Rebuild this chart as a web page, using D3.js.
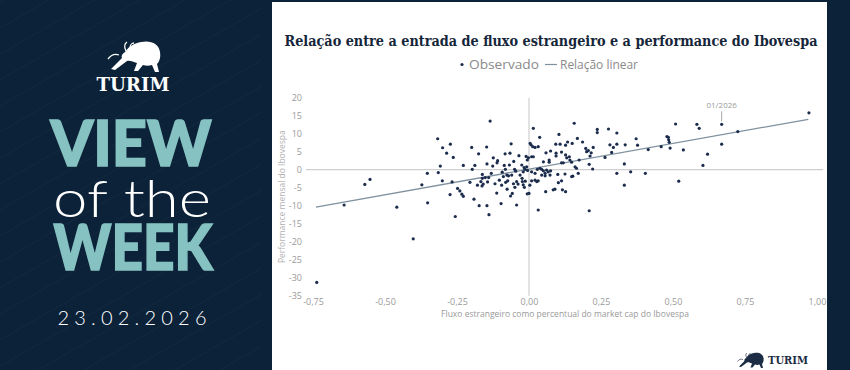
<!DOCTYPE html>
<html>
<head>
<meta charset="utf-8">
<script src="https://cdn.jsdelivr.net/npm/d3@7"></script>
<style>
html, body { margin: 0; padding: 0; background: #0b2238; }
svg { display: block; }
</style>
</head>
<body>
<svg id="chart" width="850" height="370"></svg>
<script>
// data: foreign flow (% of market cap) vs monthly Ibovespa return (%)
var fluxo = [
  -0.737, -0.642, -0.570, -0.552, -0.459, -0.402, -0.372, -0.353, -0.352, -0.317,
  -0.315, -0.308, -0.300, -0.301, -0.286, -0.273, -0.274, -0.267, -0.263, -0.256,
  -0.248, -0.240, -0.233, -0.228, -0.228, -0.205, -0.199, -0.197, -0.191, -0.188,
  -0.179, -0.175, -0.173, -0.167, -0.163, -0.162, -0.162, -0.159, -0.152, -0.147,
  -0.146, -0.146, -0.144, -0.140, -0.139, -0.135, -0.131, -0.126, -0.124, -0.118,
  -0.112, -0.111, -0.109, -0.103, -0.097, -0.095, -0.093, -0.089, -0.086, -0.083,
  -0.082, -0.081, -0.077, -0.076, -0.074, -0.071, -0.068, -0.066, -0.064, -0.062,
  -0.060, -0.058, -0.054, -0.053, -0.050, -0.049, -0.046, -0.043, -0.043, -0.038,
  -0.035, -0.031, -0.025, -0.024, -0.023, -0.020, -0.020, -0.017, -0.016, -0.014,
  -0.013, -0.010, -0.008, -0.006, -0.006, -0.005, -0.002,
  0.000, 0.003, 0.004, 0.007, 0.009, 0.009, 0.009, 0.013, 0.015, 0.015,
  0.021, 0.021, 0.021, 0.027, 0.029, 0.032, 0.032, 0.032, 0.037, 0.038,
  0.044, 0.044, 0.050, 0.050, 0.056, 0.056, 0.058, 0.059, 0.061, 0.067,
  0.070, 0.070, 0.073, 0.075, 0.075, 0.084, 0.090, 0.093, 0.094, 0.094,
  0.100, 0.102, 0.104, 0.108, 0.113, 0.113, 0.113, 0.116, 0.119, 0.125,
  0.127, 0.127, 0.127, 0.131, 0.134, 0.140, 0.142, 0.148, 0.148, 0.150,
  0.152, 0.157, 0.160, 0.165, 0.168, 0.171, 0.174, 0.186, 0.197, 0.200,
  0.206, 0.209, 0.209, 0.212, 0.216, 0.221, 0.223, 0.237, 0.237, 0.264,
  0.276, 0.281, 0.287, 0.293, 0.305, 0.305, 0.305, 0.331, 0.331, 0.334,
  0.353, 0.372, 0.377, 0.404, 0.414, 0.459, 0.479, 0.484, 0.485, 0.487,
  0.490, 0.509, 0.520, 0.536, 0.583, 0.591, 0.604, 0.620, 0.669, 0.669,
  0.725, 0.972
];
var performance = [
  -31.3, -9.8, -4.1, -2.7, -10.4, -19.2, -4.2, -1.0, -9.2, 8.6,
  -0.8, 1.0, 6.1, -3.1, 4.6, 7.1, -6.9, -3.4, 3.4, -13.0,
  -5.2, -5.9, -6.8, -7.4, 1.2, -3.5, 6.2, 0.1, -8.2, 1.2,
  -4.3, 4.4, -10.0, -3.3, -4.5, -2.4, -1.3, -4.0, -2.2, 6.3,
  1.6, -10.0, -3.4, -2.2, -12.5, 13.5, -1.0, 1.0, 3.3, -3.9,
  -6.5, 1.9, 2.5, -2.9, -9.4, -4.3, -0.7, -1.9, 1.2, 4.4,
  0.1, -3.5, -1.5, -5.4, -3.1, -1.7, 1.3, 4.6, -7.3, 7.2,
  -1.5, -6.6, -3.9, 2.3, 0.1, -4.9, -0.4, -9.8, -3.3, -4.0,
  3.9, -1.5, 1.3, -2.4, -3.3, -4.2, -0.6, 0.6, -4.9, 0.1,
  -3.2, 3.7, 0.8, -6.7, 2.7, -0.2, 3.3,
  -6.6, -4.3, 7.3, 6.9, 3.6, -0.6, -3.1, 6.4, 11.5, 3.6,
  6.2, -1.0, -2.9, -3.3, 0.1, 6.4, -3.1, -11.2, 9.0, 0.4,
  0.1, -1.5, 2.2, -0.3, -1.0, -1.7, -6.1, 4.7, -0.1, -0.6,
  2.7, 2.1, -1.5, 5.2, -0.3, -5.6, -5.4, 7.1, 4.6, 3.8,
  -1.3, -3.6, 9.8, 7.1, 4.9, 1.9, -3.1, -5.6, 1.9, -1.2,
  6.8, 4.1, -6.1, 3.3, 7.7, 3.6, 2.7, 2.1, -1.9, 7.3,
  -1.8, 12.9, 0.8, 0.4, 8.7, -1.0, 2.7, 7.7, 5.9, 5.0,
  5.3, 1.5, -11.4, 3.8, 4.7, 0.2, 6.2, 11.2, 10.3, 3.4,
  11.3, 6.9, 4.8, 6.2, 10.2, 7.1, -1.0, 1.6, -4.3, 6.9,
  -0.6, 8.6, 6.8, -1.0, 5.6, 6.4, 9.2, 9.0, 8.3, 7.6,
  6.0, 12.7, -3.2, 5.5, 12.6, 11.5, 1.2, 4.3, 12.6, 7.1,
  10.6, 15.8
];
// fitted line, two ends
var fitX = [-0.74, 0.97];
var fitY = [-10.4, 14.0];
// highlighted month
var destaque = { label: '01/2026', x: 0.669, y: 12.6 };

var xTicks = [-0.75, -0.50, -0.25, 0, 0.25, 0.50, 0.75, 1.00];
var yTicks = [-35, -30, -25, -20, -15, -10, -5, 0, 5, 10, 15, 20];

var NAVY = '#0b2238';
var TEAL = '#86c2c2';
var DOT = '#1c2c4c';
var FIT = '#7f919f';
var GREY = '#9a9a9a';

var svg = d3.select('#chart');

// ---------- left banner ----------
svg.append('rect').attr('width', 850).attr('height', 370).attr('fill', NAVY);

// faint diagonal stripes
var stripes = svg.append('g').attr('stroke', '#ffffff').attr('stroke-opacity', 0.035).attr('stroke-width', 1);
for (var s = -200; s < 470; s += 26) {
  stripes.append('line').attr('x1', 0).attr('y1', s + 150).attr('x2', 262).attr('y2', s);
}

function drawBull(parent, tx, ty, k, fill) {
  var b = parent.append('g').attr('transform', 'translate(' + tx + ',' + ty + ') scale(' + k + ')');
  b.append('path')
    .attr('d', 'M20,12 C24,6 30,3 36,2 C46,0 54,4 55,12 C56,18 54,22 52,24 L54,32 L50,32 L47,25 ' +
      'C44,26 41,26 38,25 L33,31 L29,31 L32,23 C28,22 25,20 22,21 L10,30 L6,29 L17,18 C16,16 17,14 20,12 Z')
    .attr('fill', fill);
  b.append('path')
    .attr('d', 'M21,11 C19,7 19,4 22,2 M25,8 C25,5 27,3 29,3 M14,15 C9,13 6,15 3,19')
    .attr('fill', 'none').attr('stroke', fill).attr('stroke-width', 1.3);
  return b;
}

drawBull(svg, 105, 40, 1, '#ffffff');

svg.append('text').attr('x', 133).attr('y', 91)
  .attr('text-anchor', 'middle')
  .style('font-family', '"DejaVu Serif", serif').style('font-weight', 700)
  .style('font-size', '18px').attr('fill', '#ffffff')
  .attr('textLength', 73).attr('lengthAdjust', 'spacingAndGlyphs')
  .text('TURIM');

var bigFont = 'Lato, "Open Sans", sans-serif';
svg.append('text').attr('x', 131).attr('y', 165.5).attr('text-anchor', 'middle')
  .style('font-family', bigFont).style('font-weight', 900).style('font-size', '62px')
  .attr('fill', TEAL).attr('stroke', TEAL).attr('stroke-width', 1.6)
  .attr('textLength', 161).attr('lengthAdjust', 'spacingAndGlyphs')
  .text('VIEW');
svg.append('text').attr('x', 132).attr('y', 216.5).attr('text-anchor', 'middle')
  .style('font-family', bigFont).style('font-weight', 300).style('font-size', '52px')
  .attr('fill', '#ffffff').attr('textLength', 158).attr('lengthAdjust', 'spacingAndGlyphs')
  .text('of the');
svg.append('text').attr('x', 133).attr('y', 270).attr('text-anchor', 'middle')
  .style('font-family', bigFont).style('font-weight', 900).style('font-size', '62px')
  .attr('fill', TEAL).attr('stroke', TEAL).attr('stroke-width', 1.6)
  .attr('textLength', 159).attr('lengthAdjust', 'spacingAndGlyphs')
  .text('WEEK');
svg.append('text').attr('x', 132).attr('y', 325).attr('text-anchor', 'middle')
  .style('font-family', bigFont).style('font-weight', 300).style('font-size', '20px')
  .attr('fill', '#ffffff').attr('textLength', 149).attr('lengthAdjust', 'spacing')
  .text('23.02.2026');

// ---------- chart panel ----------
svg.append('rect').attr('x', 272).attr('y', 2).attr('width', 555).attr('height', 368).attr('fill', '#ffffff');

svg.append('text').attr('x', 551).attr('y', 45.5).attr('text-anchor', 'middle')
  .style('font-family', '"DejaVu Serif Condensed", "DejaVu Serif", serif').style('font-weight', 700)
  .style('font-stretch', 'condensed').style('font-size', '14.5px')
  .attr('fill', '#15263a').attr('textLength', 533).attr('lengthAdjust', 'spacingAndGlyphs')
  .text('Relação entre a entrada de fluxo estrangeiro e a performance do Ibovespa');

var sans = '"Open Sans", "Noto Sans", sans-serif';

// legend
var leg = svg.append('g').style('font-family', sans).style('font-size', '12px').attr('fill', '#8a8a8a');
leg.append('circle').attr('cx', 462).attr('cy', 64.5).attr('r', 1.6).attr('fill', DOT);
leg.append('text').attr('x', 469).attr('y', 68.5).attr('textLength', 70).attr('lengthAdjust', 'spacingAndGlyphs').text('Observado');
leg.append('line').attr('x1', 545).attr('x2', 557).attr('y1', 64.5).attr('y2', 64.5).attr('stroke', FIT).attr('stroke-width', 1.2);
leg.append('text').attr('x', 560).attr('y', 68.5).attr('textLength', 78).attr('lengthAdjust', 'spacingAndGlyphs').text('Relação linear');

var x = d3.scaleLinear().domain([-0.75, 1.0]).range([313, 817]);
var y = d3.scaleLinear().domain([-35, 20]).range([295.7, 97.7]);

var br = d3.formatLocale({ decimal: ',', thousands: '.', grouping: [3], currency: ['R$', ''], minus: '-' });

var gx = svg.append('g').attr('transform', 'translate(0,' + y(-35) + ')')
  .call(d3.axisBottom(x).tickValues(xTicks).tickSize(0).tickPadding(3).tickFormat(br.format('.2f')));
var gy = svg.append('g').attr('transform', 'translate(' + x(-0.75) + ',0)')
  .call(d3.axisLeft(y).tickValues(yTicks).tickSize(0).tickPadding(11).tickFormat(br.format('d')));
[gx, gy].forEach(function(g) {
  g.select('.domain').remove();
  g.selectAll('text').attr('fill', GREY).style('font-family', sans).style('font-size', '9px');
});

// axis titles
svg.append('text').attr('x', 565).attr('y', 317).attr('text-anchor', 'middle')
  .style('font-family', sans).style('font-size', '8.5px').attr('fill', GREY)
  .text('Fluxo estrangeiro como percentual do market cap do Ibovespa');
svg.append('text').attr('transform', 'translate(285,' + ((y(20) + y(-35)) / 2) + ') rotate(-90)')
  .attr('text-anchor', 'middle')
  .style('font-family', sans).style('font-size', '8.5px').attr('fill', '#b0b0b0')
  .text('Performance mensal do Ibovespa');

// zero lines
svg.append('line').attr('x1', x.range()[0] - 7).attr('x2', x.range()[1] + 6)
  .attr('y1', y(0)).attr('y2', y(0)).attr('stroke', '#cfcfcf').attr('stroke-width', 1.2);
svg.append('line').attr('x1', x(0)).attr('x2', x(0))
  .attr('y1', y(20)).attr('y2', y(-35)).attr('stroke', '#cfcfcf').attr('stroke-width', 1.2);

// fitted line
svg.append('line').attr('x1', x(fitX[0])).attr('y1', y(fitY[0]))
  .attr('x2', x(fitX[1])).attr('y2', y(fitY[1]))
  .attr('stroke', FIT).attr('stroke-width', 1.3);

// dots
var pts = fluxo.map(function(v, i) { return { fx: v, pf: performance[i] }; });
svg.append('g').selectAll('circle').data(pts).enter()
  .append('circle')
  .attr('cx', function(d) { return x(d.fx); })
  .attr('cy', function(d) { return y(d.pf); })
  .attr('r', 1.6)
  .attr('fill', DOT);

// annotation
svg.append('line').attr('x1', x(destaque.x)).attr('x2', x(destaque.x))
  .attr('y1', y(destaque.y) - 13).attr('y2', y(destaque.y) - 3)
  .attr('stroke', '#a8a8a8').attr('stroke-width', 1);
svg.append('text').attr('x', x(destaque.x)).attr('y', y(destaque.y) - 16).attr('text-anchor', 'middle')
  .style('font-family', sans).style('font-size', '8px').attr('fill', GREY)
  .text(destaque.label);

// footer logo
drawBull(svg, 736, 352, 0.5, '#1c2c44');
svg.append('text').attr('x', 768).attr('y', 364)
  .style('font-family', '"DejaVu Serif", serif').style('font-weight', 700).style('font-size', '11px')
  .attr('fill', '#1c2c44').attr('textLength', 40).attr('lengthAdjust', 'spacingAndGlyphs')
  .text('TURIM');
</script>
</body>
</html>
